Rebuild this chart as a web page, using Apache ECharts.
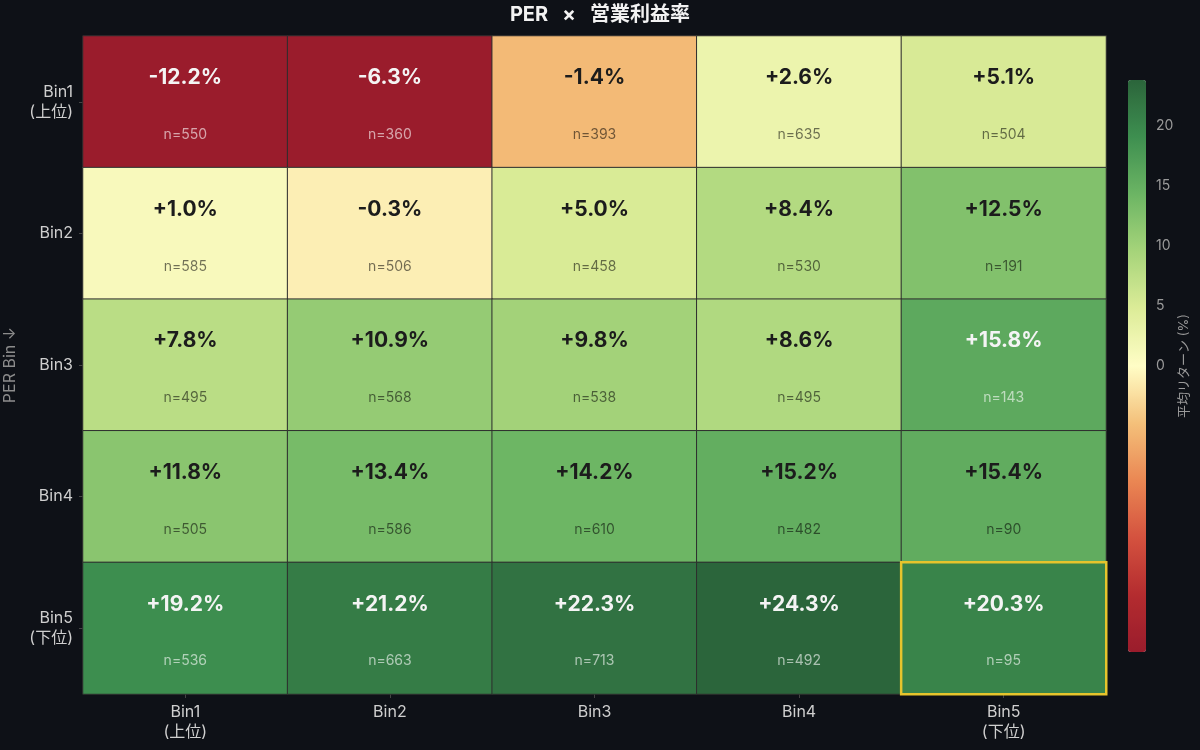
<!DOCTYPE html>
<html><head><meta charset="utf-8">
<script src="https://cdn.jsdelivr.net/npm/echarts@6/dist/echarts.min.js"></script>
<style>html,body{margin:0;padding:0;background:#0e1117;}#c{width:1200px;height:750px;}</style>
</head><body><div id="c"></div>
<script>
const title = 'PER   ×   営業利益率';
const xCategories = ['Bin1\n(上位)', 'Bin2', 'Bin3', 'Bin4', 'Bin5\n(下位)'];
const yCategories = ['Bin1\n(上位)', 'Bin2', 'Bin3', 'Bin4', 'Bin5\n(下位)'];
const yAxisName = 'PER Bin ↓';
const colorbarName = '平均リターン (%)';
// mean return (%) by PER bin (rows) x operating margin bin (columns)
const returnsRow1 = [-12.2, -6.3, -1.4, 2.6, 5.1];
const returnsRow2 = [1.0, -0.3, 5.0, 8.4, 12.5];
const returnsRow3 = [7.8, 10.9, 9.8, 8.6, 15.8];
const returnsRow4 = [11.8, 13.4, 14.2, 15.2, 15.4];
const returnsRow5 = [19.2, 21.2, 22.3, 24.3, 20.3];
const countsRow1 = [550, 360, 393, 635, 504];
const countsRow2 = [585, 506, 458, 530, 191];
const countsRow3 = [495, 568, 538, 495, 143];
const countsRow4 = [505, 586, 610, 482, 90];
const countsRow5 = [536, 663, 713, 492, 95];
const colorbarTicks = [0, 5, 10, 15, 20];
const highlightCell = [4, 4]; // [column, row]
const normMin = -6.3, normCenter = 0, normMax = 23.8;

const returnRows = [returnsRow1, returnsRow2, returnsRow3, returnsRow4, returnsRow5];
const countRows = [countsRow1, countsRow2, countsRow3, countsRow4, countsRow5];

function twoSlope(v) {
  if (v >= normCenter) return Math.min((v - normCenter) / (normMax - normCenter), 1);
  return -Math.min((normCenter - v) / (normCenter - normMin), 1);
}

const data = [];
let hi = null;
returnRows.forEach((row, r) => {
  row.forEach((v, c) => {
    const item = { value: [c, r, v, countRows[r][c], twoSlope(v)] };
    if (c === highlightCell[0] && r === highlightCell[1]) {
      item.itemStyle = { borderColor: '#e6c42c', borderWidth: 2.5 };
      hi = item;
    } else data.push(item);
  });
});
if (hi) data.push(hi);

const FONT = 'Inter, "Noto Sans CJK JP", sans-serif';

const chart = echarts.init(document.getElementById('c'));
chart.setOption({
  backgroundColor: '#0e1117',
  animation: false,
  textStyle: { fontFamily: FONT },
  title: {
    text: title, left: 'center', top: 0,
    textStyle: { color: '#f2f2f2', fontSize: 20, fontWeight: 'bold', fontFamily: FONT }
  },
  grid: [
    { left: 83, top: 36, width: 1023, height: 658, outerBoundsMode: 'none', containLabel: false },
    { left: 1128, top: 80, width: 18, height: 572, outerBoundsMode: 'none', containLabel: false }
  ],
  xAxis: [
    {
      type: 'category', data: xCategories, gridIndex: 0,
      axisLine: { show: false },
      axisTick: { show: true, alignWithLabel: true, length: 4, lineStyle: { color: '#444' } },
      axisLabel: { color: '#cfcfcf', fontSize: 16, lineHeight: 20, margin: 8, fontFamily: FONT },
      splitLine: { show: false }
    },
    { type: 'value', gridIndex: 1, show: false, min: 0, max: 1 }
  ],
  yAxis: [
    {
      type: 'category', data: yCategories, gridIndex: 0, inverse: true,
      name: yAxisName, nameLocation: 'middle', nameGap: 63, nameRotate: 90,
      nameTextStyle: { color: '#8c8c8c', fontSize: 16, fontFamily: FONT },
      axisLine: { show: false },
      axisTick: { show: true, alignWithLabel: true, length: 4, lineStyle: { color: '#444' } },
      axisLabel: { color: '#cfcfcf', fontSize: 16, lineHeight: 20, margin: 10, fontFamily: FONT },
      splitLine: { show: false }
    },
    {
      type: 'value', gridIndex: 1, min: -normMax, max: normMax, position: 'right',
      name: colorbarName, nameLocation: 'middle', nameGap: 31, nameRotate: 90,
      nameTextStyle: { color: '#9a9a9a', fontSize: 13, fontFamily: FONT },
      axisLine: { show: false },
      splitLine: { show: false },
      axisTick: { show: true, customValues: colorbarTicks, length: 4, lineStyle: { color: '#9a9a9a' } },
      axisLabel: { show: true, customValues: colorbarTicks, color: '#9a9a9a', fontSize: 14, margin: 10, fontFamily: FONT }
    }
  ],
  visualMap: {
    type: 'continuous', dimension: 4, min: -1, max: 1, seriesIndex: 0,
    orient: 'vertical', left: 1128, top: 80, itemWidth: 18, itemHeight: 572,
    padding: 0, calculable: false, hoverLink: false, text: null,
    inRange: {
      color: ['#9a1c2c', '#b42c2f', '#d4523f', '#ea8753', '#f4c07a', '#fffdc6',
              '#dcec98', '#a6d47a', '#6cb564', '#3e8f50', '#2b653b']
    }
  },
  series: [{
    type: 'heatmap', xAxisIndex: 0, yAxisIndex: 0,
    data: data,
    itemStyle: { borderColor: '#2e2e2e', borderWidth: 1 },
    label: {
      show: true,
      formatter: function (p) {
        const v = p.value[2];
        const s = (v > 0 ? '+' : (v < 0 ? '-' : '')) + Math.abs(v).toFixed(1) + '%';
        const dark = v >= 15.5 || v <= -5;
        return (dark ? '{vw|' : '{vd|') + s + '}\n' + (dark ? '{nw|' : '{nd|') + 'n=' + p.value[3] + '}';
      },
      rich: {
        vw: { color: '#f4f4f4', fontSize: 21, fontWeight: 'bold', lineHeight: 66, fontFamily: FONT },
        vd: { color: '#1c1c1c', fontSize: 21, fontWeight: 'bold', lineHeight: 66, fontFamily: FONT },
        nw: { color: 'rgba(255,255,255,0.6)', fontSize: 14, lineHeight: 48, fontFamily: FONT },
        nd: { color: 'rgba(0,0,0,0.55)', fontSize: 14, lineHeight: 48, fontFamily: FONT }
      }
    },
    emphasis: { disabled: true }
  }]
});
</script>
</body></html>
